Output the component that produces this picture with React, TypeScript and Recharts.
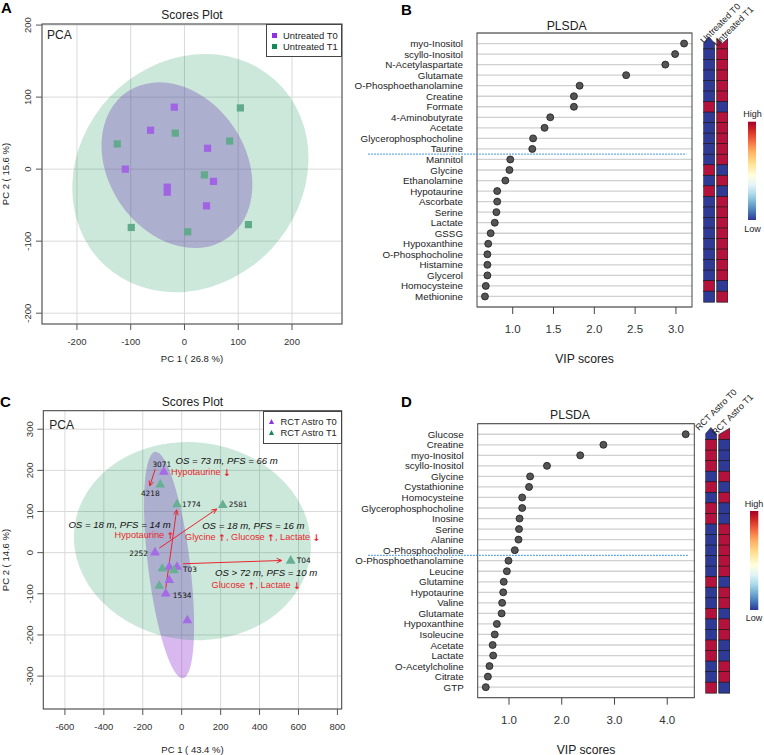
import React from "react";
import {
  ScatterChart,
  Scatter,
  XAxis,
  YAxis,
  CartesianGrid,
  ReferenceArea,
  ReferenceLine,
  ReferenceDot,
  Legend,
  BarChart,
  Bar,
} from "recharts";

const FONT = '"Liberation Sans", Arial, Helvetica, sans-serif';
const INK = "#222";
const RED = "#e8262d";
const HEAT_HIGH = "#b3123c";
const HEAT_LOW = "#2f3a96";

// ---------- A: PCA scores, untreated ----------
const untreatedT0 = [
  { x: -19, y: 86 },
  { x: -63, y: 54 },
  { x: 43, y: 29 },
  { x: -110, y: 0 },
  { x: -32, y: -25 },
  { x: -32, y: -32 },
  { x: 54, y: -17 },
  { x: 41, y: -51 },
];
const untreatedT1 = [
  { x: 104, y: 85 },
  { x: -17, y: 50 },
  { x: -125, y: 35 },
  { x: 84, y: 39 },
  { x: 37, y: -8 },
  { x: -99, y: -81 },
  { x: 6, y: -87 },
  { x: 119, y: -77 },
];
// 95% ellipses: centre, semi-axes, tilt (deg)
const ellipseUntreatedT0 = { cx: -14, cy: 5.5, rx: 165, ry: 95, tilt: 55.8 };
const ellipseUntreatedT1 = { cx: 11, cy: -5.5, rx: 234, ry: 154, tilt: -46.9 };
const pcaTicksA = [-200, -100, 0, 100, 200];

// ---------- C: PCA scores, RCT Astro ----------
const astroT0 = [
  { x: -92, y: 197, id: "3071" },
  { x: -137, y: 1, id: "2252" },
  { x: -64, y: -34 },
  { x: -24, y: -34, id: "T03" },
  { x: -64, y: -66 },
  { x: -82, y: -99, id: "1534" },
  { x: 29, y: -164 },
];
const astroT1 = [
  { x: -110, y: 166, id: "4218" },
  { x: -24, y: 118, id: "1774" },
  { x: 211, y: 116, id: "2581" },
  { x: 560, y: -19, id: "T04" },
  { x: -100, y: -38 },
  { x: -40, y: -42 },
  { x: -115, y: -80 },
];
const ellipseAstroT0 = { cx: -65, cy: -30, rx: 108, ry: 277, tilt: -7 };
const ellipseAstroT1 = { cx: 55, cy: 28, rx: 610, ry: 240, tilt: 6.6 };
const astroArrows = [
  { from: [-136, 203], to: [-164, 162] },
  { from: [-115, 11], to: [180, 106] },
  { from: [-82, -87], to: [-26, 104] },
  { from: [7, -27], to: [514, -19] },
];
const astroNotes = [
  { x: 231, y: 224, text: "OS = 73 m, PFS = 66 m", kind: "os" },
  { x: 99, y: 196, text: "Hypotaurine \u2193", kind: "met" },
  { x: -319, y: 69, text: "OS = 18 m, PFS = 14 m", kind: "os" },
  { x: -191, y: 43, text: "Hypotaurine \u2191", kind: "met" },
  { x: 368, y: 66, text: "OS = 18 m, PFS = 16 m", kind: "os" },
  { x: 365, y: 38, text: "Glycine \u2191, Glucose \u2191, Lactate \u2193", kind: "met" },
  { x: 434, y: -48, text: "OS > 72 m, PFS = 10 m", kind: "os" },
  { x: 383, y: -78, text: "Glucose \u2191, Lactate \u2193", kind: "met" },
];
const pcaTicksCx = [-600, -400, -200, 0, 200, 400, 600, 800];
const pcaTicksCy = [-300, -200, -100, 0, 100, 200, 300];

// where each sample id sits next to its marker
const idPlacement: Record<string, [number, number, "start" | "middle" | "end"]> = {
  "3071": [-2, -7, "middle"],
  "4218": [-10, 9, "middle"],
  "1774": [5, 0, "start"],
  "2581": [6, 0, "start"],
  "2252": [-7, 1, "end"],
  T03: [6, 3, "start"],
  "1534": [7, 2, "start"],
  T04: [6, 0, "start"],
};

// ---------- B: VIP, untreated ----------
const vipNamesB = [
  "myo-Inositol", "scyllo-Inositol", "N-Acetylaspartate", "Glutamate",
  "O-Phosphoethanolamine", "Creatine", "Formate", "4-Aminobutyrate", "Acetate",
  "Glycerophosphocholine", "Taurine", "Mannitol", "Glycine", "Ethanolamine",
  "Hypotaurine", "Ascorbate", "Serine", "Lactate", "GSSG", "Hypoxanthine",
  "O-Phosphocholine", "Histamine", "Glycerol", "Homocysteine", "Methionine",
];
const vipScoresB = [
  3.1, 2.99, 2.87, 2.39, 1.82, 1.75, 1.75, 1.46, 1.39, 1.25, 1.24, 0.97, 0.96,
  0.91, 0.81, 0.81, 0.8, 0.78, 0.73, 0.7, 0.69, 0.69, 0.69, 0.67, 0.66,
];
// +1 = high, -1 = low
const heatB_T0 = [-1, -1, -1, -1, -1, -1, 1, -1, -1, -1, -1, -1, 1, -1, 1, -1, -1, -1, -1, -1, -1, -1, -1, 1, -1];
const heatB_T1 = [1, 1, 1, 1, 1, 1, -1, 1, 1, 1, 1, 1, -1, 1, -1, 1, 1, 1, 1, 1, 1, 1, 1, -1, 1];
const vipTicksB = [1, 1.5, 2, 2.5, 3];

// ---------- D: VIP, RCT Astro ----------
const vipNamesD = [
  "Glucose", "Creatine", "myo-Inositol", "scyllo-Inositol", "Glycine",
  "Cystathionine", "Homocysteine", "Glycerophosphocholine", "Inosine", "Serine",
  "Alanine", "O-Phosphocholine", "O-Phosphoethanolamine", "Leucine", "Glutamine",
  "Hypotaurine", "Valine", "Glutamate", "Hypoxanthine", "Isoleucine", "Acetate",
  "Lactate", "O-Acetylcholine", "Citrate", "GTP",
];
const vipScoresD = [
  4.35, 2.79, 2.35, 1.72, 1.4, 1.38, 1.25, 1.25, 1.2, 1.19, 1.18, 1.11, 0.99,
  0.96, 0.9, 0.89, 0.87, 0.86, 0.77, 0.73, 0.69, 0.7, 0.63, 0.6, 0.56,
];
const heatD_T0 = [-1, 1, 1, 1, -1, 1, -1, 1, 1, -1, -1, -1, -1, -1, 1, -1, -1, 1, -1, -1, 1, 1, -1, -1, 1];
const heatD_T1 = [1, -1, -1, -1, 1, -1, 1, -1, -1, 1, 1, 1, 1, 1, -1, 1, 1, -1, 1, 1, -1, -1, 1, 1, -1];
const vipTicksD = [1, 2, 3, 4];

const buildRows = (names: string[], vip: number[], t0: number[], t1: number[]) =>
  names.map((name, i) => ({
    name,
    vip: vip[i],
    rank: i + 1,
    t0: t0[i],
    t1: t1[i],
    w0: 1,
    wGap: 0.2,
    w1: 1,
  }));

const rowsB = buildRows(vipNamesB, vipScoresB, heatB_T0, heatB_T1);
const rowsD = buildRows(vipNamesD, vipScoresD, heatD_T0, heatD_T1);

// ---------- shapes & ticks ----------
const ellipseShape = (fill: string, tilt: number) => (p: any) => {
  const cx = p.x + p.width / 2;
  const cy = p.y + p.height / 2;
  return (
    <ellipse
      cx={cx}
      cy={cy}
      rx={Math.abs(p.width) / 2}
      ry={Math.abs(p.height) / 2}
      fill={fill}
      transform={`rotate(${tilt} ${cx} ${cy})`}
    />
  );
};

const frameShape = (p: any) => (
  <rect x={p.x} y={p.y} width={p.width} height={p.height} fill="none" stroke="#444" strokeWidth={1} />
);

const squareShape = (fill: string) => (p: any) => (
  <rect x={p.cx - 3.6} y={p.cy - 3.6} width={7.2} height={7.2} fill={fill} />
);

const triangleShape = (fill: string) => (p: any) => {
  const { cx, cy, payload } = p;
  const place = payload.id ? idPlacement[payload.id] : null;
  return (
    <g>
      <polygon points={`${cx},${cy - 5.4} ${cx + 4.9},${cy + 3.2} ${cx - 4.9},${cy + 3.2}`} fill={fill} />
      {place && (
        <text
          x={cx + place[0]}
          y={cy + place[1]}
          textAnchor={place[2]}
          dominantBaseline="central"
          fontSize={7.4}
          fontFamily='"DejaVu Sans", sans-serif'
          fill="#111"
        >
          {payload.id}
        </text>
      )}
    </g>
  );
};

const arrowShape = (p: any) => {
  const { x1, y1, x2, y2 } = p;
  const a = Math.atan2(y2 - y1, x2 - x1);
  const bx = x2 - 5 * Math.cos(a);
  const by = y2 - 5 * Math.sin(a);
  const nx = -Math.sin(a) * 2.3;
  const ny = Math.cos(a) * 2.3;
  return (
    <g>
      <line x1={x1} y1={y1} x2={x2} y2={y2} stroke={RED} strokeWidth={1} />
      <path d={`M${bx + nx},${by + ny} L${x2},${y2} L${bx - nx},${by - ny}`} fill="none" stroke={RED} strokeWidth={1} />
    </g>
  );
};

// arrows in the notes come from DejaVu, which draws them large like the original
const noteParts = (text: string) =>
  text.split(/([\u2191\u2193])/).map((s, i) =>
    s === "\u2191" || s === "\u2193" ? (
      <tspan key={i} fontFamily='"DejaVu Sans", sans-serif' fontWeight="bold">
        {s}
      </tspan>
    ) : (
      <tspan key={i}>{s}</tspan>
    )
  );

const noteShape = (text: string, kind: string) => (p: any) => (
  <text
    x={p.cx}
    y={p.cy}
    textAnchor="middle"
    dominantBaseline="central"
    fontFamily={FONT}
    fontSize={kind === "os" ? 9.6 : 9.2}
    fontStyle={kind === "os" ? "italic" : "normal"}
    fill={kind === "os" ? "#111" : RED}
  >
    {noteParts(text)}
  </text>
);

const pcaXTick = (p: any) => (
  <text x={p.x} y={p.y + 13} textAnchor="middle" fontSize={9.5} fill="#333" fontFamily={FONT}>
    {p.payload.value}
  </text>
);

const pcaYTick = (p: any) => {
  const x = p.x - 2.5;
  return (
    <text x={x} y={p.y} transform={`rotate(-90 ${x} ${p.y})`} textAnchor="middle" fontSize={9.5} fill="#333" fontFamily={FONT}>
      {p.payload.value}
    </text>
  );
};

const vipXTick = (p: any) => (
  <text x={p.x} y={p.y + 17} textAnchor="middle" fontSize={11.5} fill="#333" fontFamily={FONT}>
    {Number(p.payload.value).toFixed(1)}
  </text>
);

const nameTick = (names: string[]) => (p: any) => (
  <text x={p.x} y={p.y} dy={3.5} textAnchor="end" fontSize={9.8} fill={INK} fontFamily={FONT}>
    {names[p.payload.value - 1]}
  </text>
);

const dotShape = (p: any) => (
  <circle cx={p.cx} cy={p.cy} r={3.5} fill="#555" stroke="#1c1c1c" strokeWidth={0.8} />
);

const pcaLegend = (marker: "square" | "triangle", width: number) => (props: any) => (
  <div
    style={{
      width,
      height: 33,
      boxSizing: "border-box",
      border: "1px solid #444",
      background: "#fff",
      padding: "4.5px 0 0 4.8px",
      fontFamily: FONT,
      fontSize: 9.4,
      color: INK,
      lineHeight: "11px",
    }}
  >
    {(props.payload || []).map((it: any) => (
      <div key={it.value} style={{ display: "flex", alignItems: "center", height: 11 }}>
        <svg width={5} height={5} style={{ marginRight: 6.3, flex: "none" }}>
          {marker === "square" ? (
            <rect x={0} y={0} width={5} height={5} fill={it.color} />
          ) : (
            <polygon points="2.5,0 5,5 0,5" fill={it.color} />
          )}
        </svg>
        <span>{it.value}</span>
      </div>
    ))}
  </div>
);

const headApex = (x: number, y: number, w: number, h: number) =>
  `${x},${y + 5} ${x + w / 2},${y - 1.5} ${x + w},${y + 5} ${x + w},${y + h} ${x},${y + h}`;
const headNotch = (x: number, y: number, w: number, h: number) =>
  `${x},${y} ${x + w / 2},${y + 5} ${x + w},${y} ${x + w},${y + h} ${x},${y + h}`;
const headSlant = (x: number, y: number, w: number, h: number) =>
  `${x},${y + 5.5} ${x + w},${y - 1} ${x + w},${y + h} ${x},${y + h}`;

const heatCell =
  (col: "t0" | "t1", head: (x: number, y: number, w: number, h: number) => string) => (p: any) => {
    const fill = p.payload[col] > 0 ? HEAT_HIGH : HEAT_LOW;
    if (p.index === 0) {
      return <polygon points={head(p.x, p.y, p.width, p.height)} fill={fill} stroke="#333" strokeWidth={0.7} />;
    }
    return <rect x={p.x} y={p.y} width={p.width} height={p.height} fill={fill} stroke="#1a1a1a" strokeWidth={0.7} />;
  };

// ---------- panels ----------
function PanelA() {
  const xd: [number, number] = [-265, 293];
  const yd: [number, number] = [-215, 201.5];
  return (
    <div style={{ position: "absolute", left: 0, top: 0 }}>
      <ScatterChart width={380} height={370} margin={{ top: 24, right: 38, bottom: 0, left: 0 }}>
        <CartesianGrid stroke="#d9d9d9" />
        <XAxis type="number" dataKey="x" domain={xd} ticks={pcaTicksA} interval={0} allowDataOverflow axisLine={false} tickSize={6} tickLine={{ stroke: "#555" }} tick={pcaXTick} height={46} />
        <YAxis type="number" dataKey="y" domain={yd} ticks={pcaTicksA} interval={0} allowDataOverflow axisLine={false} tickSize={6} tickLine={{ stroke: "#555" }} tick={pcaYTick} width={42} />
        <ReferenceArea
          x1={ellipseUntreatedT0.cx - ellipseUntreatedT0.rx}
          x2={ellipseUntreatedT0.cx + ellipseUntreatedT0.rx}
          y1={ellipseUntreatedT0.cy - ellipseUntreatedT0.ry}
          y2={ellipseUntreatedT0.cy + ellipseUntreatedT0.ry}
          ifOverflow="visible"
          shape={ellipseShape("rgba(140,40,210,0.33)", ellipseUntreatedT0.tilt)}
        />
        <ReferenceArea
          x1={ellipseUntreatedT1.cx - ellipseUntreatedT1.rx}
          x2={ellipseUntreatedT1.cx + ellipseUntreatedT1.rx}
          y1={ellipseUntreatedT1.cy - ellipseUntreatedT1.ry}
          y2={ellipseUntreatedT1.cy + ellipseUntreatedT1.ry}
          ifOverflow="visible"
          shape={ellipseShape("rgba(0,140,70,0.2)", ellipseUntreatedT1.tilt)}
        />
        <ReferenceArea x1={xd[0]} x2={xd[1]} y1={yd[0]} y2={yd[1]} ifOverflow="visible" shape={frameShape} />
        <Legend
          layout="vertical"
          align="center"
          verticalAlign="middle"
          wrapperStyle={{ left: 266, top: 24, width: 76 }}
          content={pcaLegend("square", 76)}
        />
        <Scatter name="Untreated T0" data={untreatedT0} fill="#9030e0" shape={squareShape("#a064e4")} isAnimationActive={false} />
        <Scatter name="Untreated T1" data={untreatedT1} fill="#15895a" shape={squareShape("#62aa8c")} isAnimationActive={false} />
      </ScatterChart>
    </div>
  );
}

function PanelC() {
  const xd: [number, number] = [-711, 822];
  const yd: [number, number] = [-380, 345];
  return (
    <div style={{ position: "absolute", left: 0, top: 375 }}>
      <ScatterChart width={380} height={380} margin={{ top: 35.7, right: 38.3, bottom: 0, left: 0 }}>
        <CartesianGrid stroke="#d9d9d9" />
        <XAxis type="number" dataKey="x" domain={xd} ticks={pcaTicksCx} interval={0} allowDataOverflow axisLine={false} tickSize={6} tickLine={{ stroke: "#555" }} tick={pcaXTick} height={46} />
        <YAxis type="number" dataKey="y" domain={yd} ticks={pcaTicksCy} interval={0} allowDataOverflow axisLine={false} tickSize={6} tickLine={{ stroke: "#555" }} tick={pcaYTick} width={43.3} />
        <ReferenceArea
          x1={ellipseAstroT0.cx - ellipseAstroT0.rx}
          x2={ellipseAstroT0.cx + ellipseAstroT0.rx}
          y1={ellipseAstroT0.cy - ellipseAstroT0.ry}
          y2={ellipseAstroT0.cy + ellipseAstroT0.ry}
          ifOverflow="visible"
          shape={ellipseShape("rgba(140,40,210,0.33)", ellipseAstroT0.tilt)}
        />
        <ReferenceArea
          x1={ellipseAstroT1.cx - ellipseAstroT1.rx}
          x2={ellipseAstroT1.cx + ellipseAstroT1.rx}
          y1={ellipseAstroT1.cy - ellipseAstroT1.ry}
          y2={ellipseAstroT1.cy + ellipseAstroT1.ry}
          ifOverflow="visible"
          shape={ellipseShape("rgba(0,140,70,0.2)", ellipseAstroT1.tilt)}
        />
        <ReferenceArea x1={xd[0]} x2={xd[1]} y1={yd[0]} y2={yd[1]} ifOverflow="visible" shape={frameShape} />
        {astroArrows.map((a, i) => (
          <ReferenceLine
            key={`arr${i}`}
            segment={[
              { x: a.from[0], y: a.from[1] },
              { x: a.to[0], y: a.to[1] },
            ]}
            ifOverflow="visible"
            shape={arrowShape}
          />
        ))}
        <Legend
          layout="vertical"
          align="center"
          verticalAlign="middle"
          wrapperStyle={{ left: 263.3, top: 35.7, width: 78.4 }}
          content={pcaLegend("triangle", 78.4)}
        />
        <Scatter name="RCT Astro T0" data={astroT0} fill="#9030e0" shape={triangleShape("#a56ae6")} isAnimationActive={false} />
        <Scatter name="RCT Astro T1" data={astroT1} fill="#15895a" shape={triangleShape("#67b093")} isAnimationActive={false} />
        {astroNotes.map((n, i) => (
          <ReferenceDot key={`note${i}`} x={n.x} y={n.y} r={1} ifOverflow="visible" shape={noteShape(n.text, n.kind)} />
        ))}
      </ScatterChart>
    </div>
  );
}

type VipProps = {
  rows: ReturnType<typeof buildRows>;
  names: string[];
  left: number;
  top: number;
  width: number;
  height: number;
  marginTop: number;
  marginRight: number;
  yWidth: number;
  xHeight: number;
  xDomain: [number, number];
  xTicks: number[];
  cutoff: number;
  cutoffFrom: number;
  cutoffTo: number;
};

function VipPanel(p: VipProps) {
  return (
    <div style={{ position: "absolute", left: p.left, top: p.top }}>
      <ScatterChart width={p.width} height={p.height} margin={{ top: p.marginTop, right: p.marginRight, bottom: 0, left: 0 }}>
        <CartesianGrid vertical={false} stroke="#d0d0d0" strokeWidth={1.3} />
        <XAxis type="number" dataKey="vip" domain={p.xDomain} ticks={p.xTicks} interval={0} allowDataOverflow axisLine={false} tickSize={7} tickLine={{ stroke: "#444" }} tick={vipXTick} height={p.xHeight} />
        <YAxis type="number" dataKey="rank" domain={[0, 26]} reversed ticks={p.rows.map((r) => r.rank)} interval={0} allowDataOverflow axisLine={false} tickLine={false} tickSize={6} tickMargin={8} tick={nameTick(p.names)} width={p.yWidth} />
        <ReferenceArea x1={p.xDomain[0]} x2={p.xDomain[1]} y1={0} y2={26} ifOverflow="visible" shape={frameShape} />
        <ReferenceLine
          segment={[
            { x: p.cutoffFrom, y: p.cutoff },
            { x: p.cutoffTo, y: p.cutoff },
          ]}
          ifOverflow="visible"
          stroke="#3d8fe3"
          strokeWidth={1.2}
          strokeDasharray="1.5 1.5"
        />
        <Scatter data={p.rows} shape={dotShape} isAnimationActive={false} />
      </ScatterChart>
    </div>
  );
}

type HeatProps = {
  rows: ReturnType<typeof buildRows>;
  left: number;
  top: number;
  height: number;
  margin: { top: number; bottom: number; left: number; right: number };
  heads: [(x: number, y: number, w: number, h: number) => string, (x: number, y: number, w: number, h: number) => string];
};

function HeatColumns(p: HeatProps) {
  return (
    <div style={{ position: "absolute", left: p.left, top: p.top }}>
      <BarChart layout="vertical" width={35} height={p.height} data={p.rows} margin={p.margin} barCategoryGap={0} barGap={0}>
        <XAxis type="number" hide domain={[0, 2.2]} allowDataOverflow />
        <YAxis type="category" dataKey="name" hide />
        <Bar dataKey="w0" stackId="h" shape={heatCell("t0", p.heads[0])} isAnimationActive={false} />
        <Bar dataKey="wGap" stackId="h" fill="none" isAnimationActive={false} />
        <Bar dataKey="w1" stackId="h" shape={heatCell("t1", p.heads[1])} isAnimationActive={false} />
      </BarChart>
    </div>
  );
}

function Labels() {
  const txt = { fontFamily: FONT, fill: INK } as const;
  return (
    <svg width={764} height={755} style={{ position: "absolute", left: 0, top: 0, pointerEvents: "none" }}>
      <defs>
        <linearGradient id="rdylbu" x1="0" y1="0" x2="0" y2="1">
          <stop offset="0" stopColor="#a50026" />
          <stop offset="0.1" stopColor="#d73027" />
          <stop offset="0.2" stopColor="#f46d43" />
          <stop offset="0.3" stopColor="#fdae61" />
          <stop offset="0.42" stopColor="#fee090" />
          <stop offset="0.55" stopColor="#ffffdf" />
          <stop offset="0.65" stopColor="#e0f3f8" />
          <stop offset="0.74" stopColor="#abd9e9" />
          <stop offset="0.83" stopColor="#74add1" />
          <stop offset="0.92" stopColor="#4575b4" />
          <stop offset="1" stopColor="#313695" />
        </linearGradient>
      </defs>

      <text x={1} y={13} fontSize={15} fontWeight="bold" {...txt} fill="#000">A</text>
      <text x={401} y={15} fontSize={15} fontWeight="bold" {...txt} fill="#000">B</text>
      <text x={0} y={406.5} fontSize={15} fontWeight="bold" {...txt} fill="#000">C</text>
      <text x={401} y={406.5} fontSize={15} fontWeight="bold" {...txt} fill="#000">D</text>

      <text x={192} y={19.3} fontSize={12} textAnchor="middle" {...txt}>Scores Plot</text>
      <text x={47} y={39.3} fontSize={12} {...txt}>PCA</text>
      <text x={192} y={361.5} fontSize={9.5} textAnchor="middle" {...txt}>PC 1 ( 26.8 %)</text>
      <text x={9.4} y={174} fontSize={9.5} textAnchor="middle" transform="rotate(-90 9.4 174)" {...txt}>PC 2 ( 15.6 %)</text>

      <text x={192.5} y={406.3} fontSize={12} textAnchor="middle" {...txt}>Scores Plot</text>
      <text x={49.3} y={429.3} fontSize={12} {...txt}>PCA</text>
      <text x={192.5} y={752.7} fontSize={9.5} textAnchor="middle" {...txt}>PC 1 ( 43.4 %)</text>
      <text x={9.4} y={560} fontSize={9.5} textAnchor="middle" transform="rotate(-90 9.4 560)" {...txt}>PC 2 ( 14.6 %)</text>

      <text x={566.7} y={30} fontSize={12.2} textAnchor="middle" {...txt}>PLSDA</text>
      <text x={584.5} y={363} fontSize={12.2} textAnchor="middle" {...txt}>VIP scores</text>
      <text x={570} y={419.3} fontSize={12.2} textAnchor="middle" {...txt}>PLSDA</text>
      <text x={586} y={753.5} fontSize={12.2} textAnchor="middle" {...txt}>VIP scores</text>

      <text x={704} y={44} fontSize={9} transform="rotate(-45 704 44)" {...txt}>Untreated T0</text>
      <text x={717} y={47} fontSize={9} transform="rotate(-45 717 47)" {...txt}>Untreated T1</text>
      <text x={699} y={431} fontSize={9} transform="rotate(-45 699 431)" {...txt}>RCT Astro T0</text>
      <text x={715.5} y={436} fontSize={9} transform="rotate(-45 715.5 436)" {...txt}>RCT Astro T1</text>

      <text x={752.5} y={116.5} fontSize={9} textAnchor="middle" {...txt}>High</text>
      <rect x={748} y={121.7} width={8} height={98.3} fill="url(#rdylbu)" />
      <text x={752.5} y={232} fontSize={9} textAnchor="middle" {...txt}>Low</text>

      <text x={754} y={506.5} fontSize={9} textAnchor="middle" {...txt}>High</text>
      <rect x={750} y={511} width={8.3} height={99} fill="url(#rdylbu)" />
      <text x={754} y={621.3} fontSize={9} textAnchor="middle" {...txt}>Low</text>
    </svg>
  );
}

export default function App() {
  return (
    <div style={{ position: "absolute", left: 0, top: 0, width: 764, height: 755, background: "#fff", overflow: "hidden", fontFamily: FONT }}>
      <PanelA />
      <PanelC />
      <VipPanel
        rows={rowsB}
        names={vipNamesB}
        left={345}
        top={0}
        width={360}
        height={370}
        marginTop={33}
        marginRight={13}
        yWidth={132}
        xHeight={63}
        xDomain={[0.5625, 3.197]}
        xTicks={vipTicksB}
        cutoff={11.5}
        cutoffFrom={-0.77}
        cutoffTo={3.13}
      />
      <VipPanel
        rows={rowsD}
        names={vipNamesD}
        left={345}
        top={375}
        width={360}
        height={380}
        marginTop={48.7}
        marginRight={10.7}
        yWidth={132.7}
        xHeight={57.3}
        xDomain={[0.4066, 4.513]}
        xTicks={vipTicksD}
        cutoff={12.5}
        cutoffFrom={-1.67}
        cutoffTo={4.4}
      />
      <HeatColumns
        rows={rowsB}
        left={700}
        top={0}
        height={370}
        margin={{ top: 38.3, bottom: 68.3, left: 3.3, right: 7 }}
        heads={[headApex, headNotch]}
      />
      <HeatColumns
        rows={rowsD}
        left={700}
        top={375}
        height={380}
        margin={{ top: 54, bottom: 62.3, left: 5.3, right: 5 }}
        heads={[headApex, headSlant]}
      />
      <Labels />
    </div>
  );
}
